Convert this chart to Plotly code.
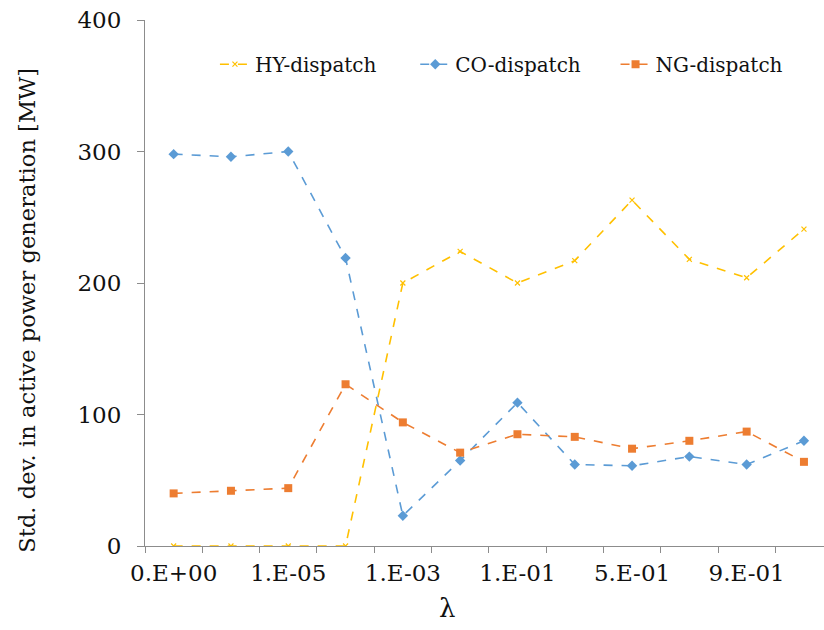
import plotly.graph_objects as go

# Regularisation weight lambda (categorical x positions)
lambdas = ["0.E+00", "1.E-06", "1.E-05", "1.E-04", "1.E-03", "1.E-02",
           "1.E-01", "3.E-01", "5.E-01", "7.E-01", "9.E-01", "1.E+00"]

# Standard deviation of active power generation [MW]
hy_dispatch = [0, 0, 0, 0, 200, 224, 200, 217, 263, 218, 204, 241]
co_dispatch = [298, 296, 300, 219, 23, 65, 109, 62, 61, 68, 62, 80]
ng_dispatch = [40, 42, 44, 123, 94, 71, 85, 83, 74, 80, 87, 64]

# Every other category gets a label
label_idx = list(range(0, len(lambdas), 2))
label_text = [lambdas[i] for i in label_idx]

FONT = "DejaVu Serif"
AXIS_COLOR = "#8c8c8c"

fig = go.Figure()
x = list(range(len(lambdas)))

fig.add_trace(go.Scatter(
    x=x, y=hy_dispatch, name="HY-dispatch", mode="lines+markers",
    line=dict(color="#FFC000", width=1.6, dash="dash"),
    marker=dict(symbol="x-thin", size=5, color="#FFC000",
                line=dict(color="#FFC000", width=1.2)),
    legend="legend",
))
fig.add_trace(go.Scatter(
    x=x, y=co_dispatch, name="CO-dispatch", mode="lines+markers",
    line=dict(color="#5B9BD5", width=1.6, dash="dash"),
    marker=dict(symbol="diamond", size=8, color="#5B9BD5"),
    legend="legend2",
))
fig.add_trace(go.Scatter(
    x=x, y=ng_dispatch, name="NG-dispatch", mode="lines+markers",
    line=dict(color="#ED7D31", width=1.6, dash="dash"),
    marker=dict(symbol="square", size=8, color="#ED7D31"),
    legend="legend3",
))


def legend_at(xpos):
    return dict(
        x=xpos, y=0.916, xanchor="left", yanchor="middle",
        font=dict(family=FONT, size=20, color="#111"),
        bgcolor="rgba(0,0,0,0)", itemwidth=30,
    )


fig.update_layout(
    width=824, height=630,
    margin=dict(l=145, r=0, t=20, b=84),
    paper_bgcolor="white", plot_bgcolor="white",
    font=dict(family=FONT, size=22, color="#111"),
    showlegend=True,
    legend=legend_at(0.103),
    legend2=legend_at(0.398),
    legend3=legend_at(0.693),
    xaxis=dict(
        range=[-0.5, 11.35],
        tickmode="array", tickvals=label_idx, ticktext=label_text,
        showgrid=False, zeroline=False,
        showline=True, linecolor=AXIS_COLOR, linewidth=1,
        ticks="", tickfont=dict(family=FONT, size=23),
        ticklabelstandoff=6,
        minor=dict(tickmode="array",
                   tickvals=[i - 0.5 for i in range(len(lambdas) + 1)],
                   ticks="outside", ticklen=6, tickcolor=AXIS_COLOR,
                   showgrid=False),
    ),
    yaxis=dict(
        range=[0, 400], tickvals=[0, 100, 200, 300, 400],
        showgrid=False, zeroline=False,
        showline=True, linecolor=AXIS_COLOR, linewidth=1,
        ticks="outside", ticklen=7, tickcolor=AXIS_COLOR,
        tickfont=dict(family=FONT, size=23),
        ticklabelstandoff=11,
    ),
    annotations=[
        dict(text="Std. dev. in active power generation [MW]",
             xref="paper", yref="paper", x=-0.174, y=0.449,
             xanchor="center", yanchor="middle", textangle=-90,
             showarrow=False, font=dict(family=FONT, size=22.6, color="#111")),
        dict(text="λ", xref="paper", yref="paper", x=0.445, y=-0.118,
             xanchor="center", yanchor="middle",
             showarrow=False, font=dict(family=FONT, size=26, color="#111")),
    ],
)

fig.write_html("out.html")
